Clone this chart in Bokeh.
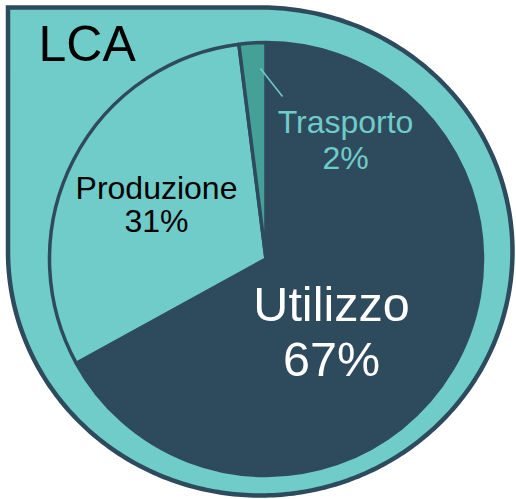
import numpy as np
from bokeh.plotting import figure
from bokeh.models import Range1d
from bokeh.core.properties import value
from bokeh.embed import file_html
from bokeh.resources import INLINE

# ---- data ----
categories = ["Utilizzo", "Produzione", "Trasporto"]
shares = [67, 31, 2]
title_text = "LCA"

# ---- style ----
TEAL = "#70CCC8"
DARK = "#2E4A5D"
TEAL_D = "#45A197"
slice_colors = [DARK, TEAL, TEAL_D]
FONT = value("Liberation Sans")

W, H = 516, 499

p = figure(width=W, height=H, output_backend="svg", toolbar_location=None,
           x_range=Range1d(0, W), y_range=Range1d(-H, 0),
           x_axis_type=None, y_axis_type=None, min_border=0)
p.outline_line_color = None
p.grid.visible = False
p.background_fill_color = "white"
p.border_fill_color = "white"

def fs(px):
    return value(f"{px:.1f}px")

def base(y, px):
    # baseline correction for svg text rendering
    return -(y - 0.4 * px)

# ---- teardrop background shape (decoration) ----
L, T, R, B = 7.5, 7.0, 512.0, 495.0
cx, cy = (L + R) / 2, (T + B) / 2
rx, ry = (R - L) / 2, (B - T) / 2
th = np.linspace(np.pi / 2, -np.pi, 300)  # top -> right -> bottom -> left
ex = cx + rx * np.cos(th)
ey = cy - ry * np.sin(th)
px_ = np.concatenate([[L], ex, [L]])
py_ = np.concatenate([[T], ey, [T]])
p.patch(px_, -py_, fill_color=TEAL, line_color=DARK, line_width=4.5, line_join="miter")

# ---- pie ----
pcx, pcy, pr = 265.5, 258.5, 216.5
vals = np.array(shares, dtype=float)
frac = vals / vals.sum()
cum = np.concatenate([[0], np.cumsum(frac)])
starts = np.pi / 2 - 2 * np.pi * cum[:-1]
ends = np.pi / 2 - 2 * np.pi * cum[1:]
p.wedge(x=pcx, y=-pcy, radius=pr, start_angle=starts, end_angle=ends,
        direction="clock", fill_color=slice_colors, line_color=DARK, line_width=3.5)

# leader line for small slice
p.line(x=[260, 282], y=[-68, -96], line_color=TEAL, line_width=1.5)

# ---- labels ----
pct = [f"{v}%" for v in shares]
f1, f2, f3, f4 = 48.5, 32, 32, 50
p.text(x=[331, 331], y=[base(323, f1), base(378, f1)], text=[categories[0], pct[0]],
       text_font=FONT, text_font_size=fs(f1), text_align="center",
       text_baseline="alphabetic", text_color="white")
p.text(x=[156, 156], y=[base(200, f2), base(233, f2)], text=[categories[1], pct[1]],
       text_font=FONT, text_font_size=fs(f2), text_align="center",
       text_baseline="alphabetic", text_color="black")
p.text(x=[345, 345], y=[base(134, f3), base(170, f3)], text=[categories[2], pct[2]],
       text_font=FONT, text_font_size=fs(f3), text_align="center",
       text_baseline="alphabetic", text_color=TEAL)
p.text(x=[38], y=[base(63, f4)], text=[title_text], text_font=FONT,
       text_font_size=fs(f4), text_align="left", text_baseline="alphabetic",
       text_color="black")

open("out.html", "w").write(file_html(p, INLINE))
